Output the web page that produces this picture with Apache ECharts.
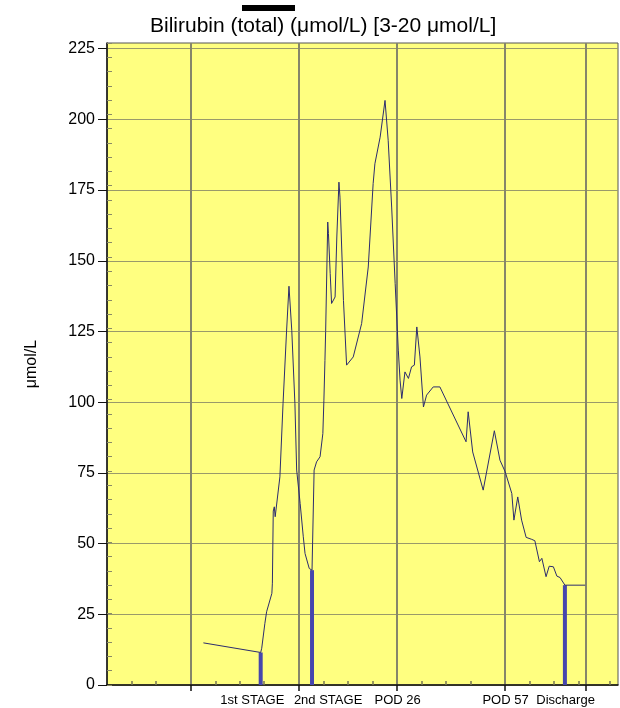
<!DOCTYPE html>
<html><head><meta charset="utf-8">
<script src="https://cdn.jsdelivr.net/npm/echarts@6/dist/echarts.min.js"></script>
<style>html,body{margin:0;padding:0;background:#fff}#c{width:620px;height:708px}</style>
</head><body><div id="c"></div>
<script>
const FONT = "'Liberation Sans', Arial, Helvetica, sans-serif";
const titleText = 'Bilirubin (total) (μmol/L) [3-20 μmol/L]';
const yAxisName = 'μmol/L';
const yTicks = [0, 25, 50, 75, 100, 125, 150, 175, 200, 225];
// x in days since 1 Jan
const monthDays = [0, 31, 59, 90, 113];
const weekDays = [-17, -10, 7, 14, 21, 38, 45, 52, 66, 73, 80, 97, 104, 111, 120];
const eventLabels = ['1st STAGE', '2nd STAGE', 'POD 26', 'POD 57', 'Discharge'];
const eventLabelDays = [17.6, 39.3, 59.2, 90.1, 107.3];
const eventDays = [20.0, 34.7, 107.1];
const eventValues = [11.5, 40.6, 35.3];
const lineDays = [3.6, 20.0, 20.3, 21.2, 21.7, 23.2, 23.35, 23.6, 23.9, 24.15, 25.5, 26.4, 27.4, 28.1,
  28.9, 29.8, 30.3, 31.3, 32.2, 32.7, 33.9, 34.7, 35.3, 36.0, 37.0, 37.8, 38.1, 38.4, 38.6, 39.2,
  39.4, 39.9, 40.3, 41.3, 41.8, 42.4, 42.7, 43.7, 44.6, 46.5, 48.9, 50.8, 52.2, 52.7, 54.2, 55.6,
  56.5, 57.5, 58.5, 59.4, 59.9, 60.4, 61.3, 62.3, 63.2, 64.0, 64.7, 65.6, 66.6, 67.5, 69.4, 71.3,
  78.8, 79.4, 80.7, 83.7, 86.9, 88.5, 90.0, 91.9, 92.5, 93.6, 94.7, 96.0, 97.6, 98.5, 99.8, 100.5,
  101.7, 102.6, 103.8, 104.8, 105.7, 107.1, 112.9];
const lineValues = [14.9, 11.5, 13, 21.8, 25.9, 32.4, 36, 61.5, 63, 59.5, 73.6, 99.5, 124.8, 141,
  125.4, 99.5, 76, 64.2, 52.4, 46.5, 41.2, 40.6, 76, 78.9, 80.7, 88.9, 100.7, 114.8, 125, 163.7,
  159.6, 145.5, 134.9, 137.2, 158.4, 177.8, 172.5, 136, 113.1, 116, 127.8, 147.8, 177.3, 184.3, 193.7, 206.7,
  192.6, 169, 141.9, 118.4, 107.8, 101.3, 110.7, 108.4, 112.5, 113.1, 126.6, 116, 98.3, 102.5, 105.4, 105.4,
  86, 96.6, 82.4, 68.9, 89.9, 79.5, 75.4, 67.7, 58.3, 66.5, 58.3, 52.2, 51.5, 51, 43.6, 44.8,
  38.3, 42, 41.8, 38.5, 38, 35.3, 35.3];

const X_MIN = -24, X_MAX = 122.3, Y_MIN = 0, Y_MAX = 227;

const chart = echarts.init(document.getElementById('c'), null, {renderer: 'canvas'});
chart.setOption({
  animation: false,
  backgroundColor: '#ffffff',
  textStyle: {fontFamily: FONT},
  title: {
    text: titleText, left: 150, top: 16, padding: 0,
    textStyle: {fontFamily: FONT, fontSize: 21, fontWeight: 'normal', color: '#000'}
  },
  graphic: [{type: 'rect', left: 242, top: 5, shape: {width: 53, height: 6}, style: {fill: '#000'}}],
  grid: {left: 107, right: 2, top: 43, bottom: 23, show: true, backgroundColor: '#ffff80',
    borderColor: '#555', borderWidth: 1},
  xAxis: [{
    type: 'value', min: X_MIN, max: X_MAX, position: 'bottom',
    axisLine: {show: true, onZero: false, lineStyle: {color: '#111', width: 1.5}},
    axisTick: {show: true, customValues: monthDays, length: 6, lineStyle: {color: '#111', width: 1.5}},
    axisLabel: {show: false},
    splitLine: {show: true, lineStyle: {color: '#86866a', width: 2}}
  }, {
    type: 'value', min: X_MIN, max: X_MAX, position: 'bottom', offset: 0,
    axisLine: {show: false, onZero: false},
    axisTick: {show: true, inside: true, customValues: weekDays, length: 4, lineStyle: {color: '#777755', width: 1.5}},
    axisLabel: {show: true, customValues: eventLabelDays, margin: 9, fontSize: 13, color: '#000', fontFamily: FONT,
      formatter: v => { const i = eventLabelDays.findIndex(d => Math.abs(d - v) < 1e-6); return i >= 0 ? eventLabels[i] : ''; }},
    splitLine: {show: false}
  }],
  yAxis: [{
    type: 'value', min: Y_MIN, max: Y_MAX, position: 'left',
    name: yAxisName, nameLocation: 'middle', nameRotate: 90, nameGap: 67,
    nameTextStyle: {fontSize: 16, color: '#000', fontFamily: FONT},
    axisLine: {show: true, onZero: false, lineStyle: {color: '#111', width: 1.5}},
    axisTick: {show: true, customValues: yTicks, length: 9, lineStyle: {color: '#111', width: 1}},
    axisLabel: {show: true, customValues: yTicks, margin: 12, fontSize: 16, color: '#000', fontFamily: FONT},
    splitLine: {show: true, lineStyle: {color: '#9a9a6a', width: 1.2}}
  }, {
    type: 'value', min: Y_MIN, max: 225, position: 'left', interval: 5,
    axisLine: {show: false, onZero: false},
    axisTick: {show: true, inside: true, length: 5, lineStyle: {color: '#8a8a66', width: 1}},
    axisLabel: {show: false},
    splitLine: {show: false}
  }],
  series: [{
    type: 'bar', xAxisIndex: 0, yAxisIndex: 0, barWidth: 4,
    itemStyle: {color: '#4646ad'},
    data: eventDays.map((d, i) => [d, eventValues[i]]),
    z: 2
  }, {
    type: 'line', xAxisIndex: 0, yAxisIndex: 0, symbol: 'none',
    lineStyle: {color: '#2c2c6e', width: 1},
    data: lineDays.map((d, i) => [d, lineValues[i]]),
    z: 3
  }]
});
</script></body></html>
